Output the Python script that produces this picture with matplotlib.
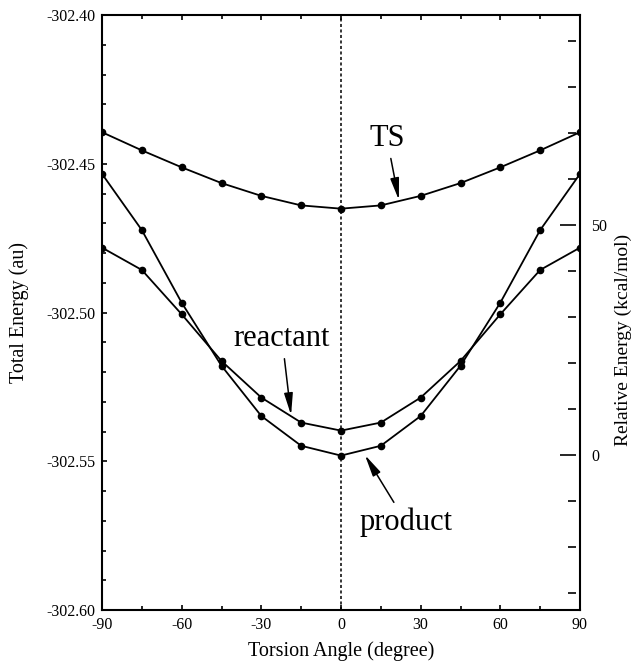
import numpy as np
import matplotlib as mpl
mpl.use('Agg')
import matplotlib.pyplot as plt
from matplotlib.ticker import MultipleLocator

plt.rcParams['font.family'] = ['Liberation Serif', 'DejaVu Serif']
plt.rcParams['mathtext.fontset'] = 'stix'

# torsion scan, total energies in au
angle = np.array([-90, -75, -60, -45, -30, -15, 0, 15, 30, 45, 60, 75, 90])
e_ts = np.array([-302.4394, -302.4455, -302.4512, -302.4565, -302.4608, -302.4640, -302.4651,
                 -302.4640, -302.4608, -302.4565, -302.4512, -302.4455, -302.4394])
e_reactant = np.array([-302.4782, -302.4857, -302.5006, -302.5163, -302.5286, -302.5370, -302.5397,
                       -302.5370, -302.5286, -302.5163, -302.5006, -302.4857, -302.4782])
e_product = np.array([-302.4534, -302.4723, -302.4967, -302.5179, -302.5348, -302.5448, -302.5481,
                      -302.5448, -302.5348, -302.5179, -302.4967, -302.4723, -302.4534])

# relative energy axis (kcal/mol), zero at the product minimum
rel_lim = (-33.7, 95.7)

fig = plt.figure(figsize=(6.36, 6.64), dpi=100)
ax = fig.add_axes([102/636, 54/664, 478/636, 595/664])

for e in (e_ts, e_reactant, e_product):
    ax.plot(angle, e, '-', color='k', lw=1.3, marker='o', ms=4.5, mfc='k', mec='k')

ax.axvline(0, color='k', ls=(0, (2, 1.6)), lw=1.1)

ax.set_xlim(-90, 90)
ax.set_ylim(-302.60, -302.40)
ax.xaxis.set_major_locator(MultipleLocator(30))
ax.xaxis.set_minor_locator(MultipleLocator(15))
ax.yaxis.set_major_locator(MultipleLocator(0.05))
ax.yaxis.set_minor_locator(MultipleLocator(0.01))
ax.yaxis.set_major_formatter(mpl.ticker.FormatStrFormatter('%.2f'))
ax.xaxis.set_major_formatter(mpl.ticker.FuncFormatter(lambda v, p: '%d' % v))
ax.tick_params(which='both', direction='in', top=True, right=False, labelsize=11.5, pad=5)
ax.tick_params(which='major', length=3.5, width=1.2)
ax.tick_params(which='minor', length=3, width=1.2)
for s in ax.spines.values():
    s.set_linewidth(1.5)

ax.set_xlabel('Torsion Angle (degree)', fontsize=14.5, labelpad=6)
ax.set_ylabel('Total Energy (au)', fontsize=14.5, labelpad=12)

ax2 = ax.twinx()
ax2.set_ylim(*rel_lim)
ax2.yaxis.set_major_locator(MultipleLocator(50))
ax2.yaxis.set_minor_locator(MultipleLocator(10))
ax2.spines['right'].set_position(('outward', -3))
ax2.spines['right'].set_visible(False)
for side in ('left', 'top', 'bottom'):
    ax2.spines[side].set_visible(False)
ax2.tick_params(which='both', direction='in', labelsize=11.5, pad=11)
ax2.tick_params(which='major', length=11.5, width=1.2)
ax2.tick_params(which='minor', length=6, width=1.2)
ax2.set_ylabel('Relative Energy (kcal/mol)', fontsize=14)
ax2.yaxis.set_label_coords(1.072, 0.454)

arrow = dict(arrowstyle='-|>,head_length=1.1,head_width=0.22', color='k', lw=1.1,
             shrinkA=2, shrinkB=0, mutation_scale=12)
ax.annotate('TS', xy=(21.8, -302.4622), xytext=(17.3, -302.4415),
            fontsize=22, ha='center', va='center', arrowprops=arrow)
ax.annotate('reactant', xy=(-18.8, -302.5345), xytext=(-22.2, -302.5088),
            fontsize=22, ha='center', va='center', arrowprops=arrow)
ax.annotate('product', xy=(9.0, -302.5479), xytext=(24.5, -302.5705),
            fontsize=22, ha='center', va='center', arrowprops=arrow)

fig.savefig('out.png', dpi=100)
